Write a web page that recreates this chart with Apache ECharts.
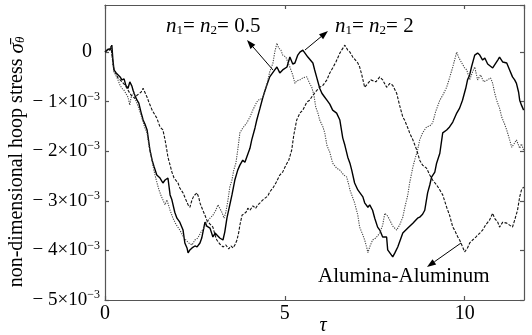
<!DOCTYPE html>
<html>
<head>
<meta charset="utf-8">
<script src="https://cdn.jsdelivr.net/npm/echarts/dist/echarts.min.js"></script>
<style>
html, body { margin: 0; padding: 0; background: #fff; }
#main { width: 532px; height: 335px; }
</style>
</head>
<body>
<div id="main"></div>
<script>
// [tau, stress in units of 1e-3]
var solidData = [[0,0],[0.08,0.06],[0.14,0.04],[0.19,0.14],[0.22,-0.16],[0.25,-0.36],[0.31,-0.42],[0.36,-0.46],[0.42,-0.50],[0.47,-0.56],[0.53,-0.54],[0.58,-0.67],[0.64,-0.73],[0.69,-0.60],[0.75,-0.69],[0.78,-0.77],[0.83,-0.87],[0.89,-0.97],[0.94,-1.03],[1.00,-1.21],[1.06,-1.37],[1.11,-1.45],[1.17,-1.57],[1.19,-1.67],[1.25,-1.98],[1.31,-2.18],[1.36,-2.30],[1.44,-2.48],[1.53,-2.54],[1.61,-2.64],[1.67,-2.58],[1.75,-2.54],[1.81,-2.88],[1.86,-2.98],[1.94,-3.23],[2.00,-3.35],[2.08,-3.43],[2.17,-3.59],[2.22,-3.85],[2.28,-3.95],[2.31,-4.05],[2.36,-3.99],[2.42,-3.95],[2.50,-3.91],[2.56,-3.93],[2.64,-3.85],[2.69,-3.75],[2.78,-3.43],[2.83,-3.51],[2.92,-3.55],[3.00,-3.73],[3.06,-3.65],[3.11,-3.63],[3.19,-3.75],[3.28,-3.79],[3.33,-3.63],[3.39,-3.35],[3.47,-3.08],[3.53,-2.88],[3.61,-2.58],[3.69,-2.38],[3.75,-2.28],[3.83,-2.18],[3.89,-2.22],[3.94,-2.12],[4.03,-1.94],[4.08,-1.77],[4.17,-1.53],[4.22,-1.37],[4.31,-1.13],[4.39,-0.91],[4.47,-0.73],[4.58,-0.50],[4.64,-0.44],[4.72,-0.36],[4.78,-0.30],[4.86,-0.42],[4.94,-0.36],[5.06,-0.30],[5.14,-0.10],[5.22,-0.24],[5.28,-0.22],[5.36,-0.06],[5.42,0],[5.50,0.04],[5.56,-0.02],[5.64,-0.10],[5.69,-0.06],[5.78,-0.22],[5.83,-0.36],[5.89,-0.52],[5.97,-0.73],[6.03,-0.83],[6.11,-0.91],[6.17,-0.97],[6.25,-1.05],[6.33,-1.17],[6.44,-1.23],[6.53,-1.37],[6.61,-1.73],[6.67,-1.88],[6.75,-2.12],[6.81,-2.24],[6.86,-2.38],[6.94,-2.64],[7.03,-2.78],[7.08,-2.74],[7.17,-2.92],[7.22,-3.04],[7.31,-3.13],[7.36,-3.08],[7.44,-3.19],[7.50,-3.35],[7.58,-3.53],[7.64,-3.59],[7.72,-3.73],[7.83,-3.73],[7.86,-3.99],[7.92,-4.05],[8.00,-4.13],[8.06,-4.05],[8.14,-3.93],[8.19,-3.89],[8.28,-3.65],[8.33,-3.69],[8.42,-3.55],[8.47,-3.51],[8.56,-3.45],[8.61,-3.47],[8.69,-3.35],[8.75,-3.33],[8.83,-3.27],[8.89,-3.19],[8.97,-2.84],[9.03,-2.68],[9.08,-2.52],[9.17,-2.42],[9.22,-2.24],[9.31,-2.04],[9.39,-1.63],[9.44,-1.61],[9.50,-1.57],[9.58,-1.51],[9.67,-1.41],[9.78,-1.23],[9.86,-1.13],[9.94,-0.97],[10.03,-0.73],[10.08,-0.56],[10.14,-0.46],[10.19,-0.30],[10.28,-0.06],[10.36,-0.02],[10.42,-0.06],[10.50,-0.16],[10.56,-0.12],[10.64,-0.24],[10.69,-0.22],[10.78,-0.32],[10.83,-0.30],[10.92,-0.16],[10.97,-0.10],[11.06,-0.20],[11.17,-0.22],[11.25,-0.36],[11.33,-0.50],[11.39,-0.56],[11.44,-0.63],[11.50,-0.81],[11.53,-0.97],[11.58,-1.07],[11.64,-1.17]];

var dottedData = [[0,0],[0.08,0.04],[0.17,0.12],[0.22,-0.26],[0.25,-0.40],[0.31,-0.48],[0.36,-0.56],[0.42,-0.67],[0.47,-0.73],[0.53,-0.77],[0.58,-0.81],[0.64,-0.91],[0.69,-1.07],[0.72,-0.93],[0.75,-0.87],[0.81,-0.81],[0.83,-0.93],[0.89,-1.03],[0.94,-1.13],[1.00,-1.27],[1.06,-1.41],[1.11,-1.53],[1.17,-1.63],[1.22,-1.88],[1.28,-2.08],[1.33,-2.28],[1.39,-2.48],[1.44,-2.62],[1.50,-2.78],[1.56,-2.90],[1.61,-2.98],[1.67,-3.08],[1.72,-2.98],[1.81,-3.19],[1.89,-3.35],[1.97,-3.47],[2.08,-3.59],[2.17,-3.71],[2.25,-3.79],[2.33,-3.85],[2.42,-3.89],[2.50,-3.79],[2.58,-3.75],[2.67,-3.63],[2.75,-3.55],[2.83,-3.43],[2.92,-3.35],[3.00,-3.29],[3.08,-3.19],[3.14,-3.08],[3.19,-3.04],[3.25,-3.23],[3.31,-3.35],[3.36,-3.23],[3.42,-2.98],[3.47,-2.72],[3.53,-2.58],[3.58,-2.38],[3.64,-2.24],[3.69,-1.98],[3.75,-1.63],[3.83,-1.53],[3.94,-1.43],[4.03,-1.31],[4.11,-1.17],[4.19,-1.05],[4.25,-0.97],[4.33,-0.95],[4.39,-0.91],[4.47,-0.73],[4.53,-0.56],[4.58,-0.40],[4.67,-0.22],[4.72,0],[4.78,0.18],[4.83,0.08],[4.89,0.04],[4.94,-0.06],[5.03,-0.10],[5.08,-0.20],[5.14,-0.30],[5.22,-0.46],[5.28,-0.63],[5.33,-0.58],[5.42,-0.56],[5.50,-0.52],[5.61,-0.50],[5.69,-0.63],[5.75,-0.71],[5.81,-0.87],[5.86,-1.11],[5.92,-1.23],[5.97,-1.37],[6.06,-1.51],[6.11,-1.63],[6.17,-1.88],[6.25,-2.02],[6.33,-2.24],[6.44,-2.34],[6.53,-2.38],[6.64,-2.48],[6.72,-2.52],[6.78,-2.68],[6.81,-2.78],[6.89,-2.94],[6.94,-3.04],[7.03,-3.29],[7.08,-3.53],[7.17,-3.69],[7.22,-3.79],[7.28,-3.95],[7.31,-4.05],[7.36,-3.93],[7.44,-3.79],[7.53,-3.75],[7.64,-3.65],[7.72,-3.49],[7.78,-3.25],[7.86,-3.31],[7.92,-3.39],[8.00,-3.51],[8.11,-3.59],[8.19,-3.49],[8.28,-3.33],[8.33,-3.15],[8.42,-2.88],[8.47,-2.64],[8.56,-2.32],[8.61,-2.18],[8.69,-1.98],[8.75,-1.77],[8.83,-1.63],[8.94,-1.51],[9.03,-1.49],[9.11,-1.43],[9.19,-1.21],[9.31,-0.97],[9.39,-0.87],[9.50,-0.71],[9.58,-0.52],[9.67,-0.30],[9.72,-0.16],[9.78,0],[9.83,-0.10],[9.92,-0.22],[10.00,-0.32],[10.06,-0.36],[10.14,-0.56],[10.22,-0.40],[10.28,-0.30],[10.36,-0.56],[10.44,-0.46],[10.53,-0.60],[10.64,-0.56],[10.72,-0.52],[10.78,-0.63],[10.83,-0.81],[10.89,-0.97],[10.97,-1.13],[11.03,-1.31],[11.11,-1.45],[11.17,-1.57],[11.25,-1.77],[11.31,-1.92],[11.39,-1.83],[11.44,-1.77],[11.53,-1.94],[11.58,-1.85],[11.64,-1.98]];

var dashedData = [[0,0],[0.08,0.04],[0.17,0.08],[0.22,-0.20],[0.25,-0.36],[0.31,-0.44],[0.36,-0.52],[0.42,-0.56],[0.47,-0.60],[0.56,-0.67],[0.61,-0.73],[0.69,-0.83],[0.75,-0.89],[0.83,-0.93],[0.89,-0.87],[0.94,-0.85],[1.00,-0.81],[1.06,-0.73],[1.11,-0.77],[1.17,-0.91],[1.22,-1.01],[1.25,-0.97],[1.31,-1.17],[1.39,-1.27],[1.44,-1.33],[1.53,-1.51],[1.58,-1.47],[1.61,-1.57],[1.67,-1.77],[1.72,-1.98],[1.75,-2.12],[1.81,-2.28],[1.86,-2.42],[1.92,-2.54],[1.97,-2.58],[2.03,-2.64],[2.08,-2.74],[2.17,-2.84],[2.25,-2.98],[2.31,-3.08],[2.36,-3.13],[2.42,-2.98],[2.47,-2.90],[2.56,-2.84],[2.61,-2.94],[2.64,-3.04],[2.72,-3.19],[2.78,-3.29],[2.83,-3.39],[2.92,-3.47],[3.00,-3.53],[3.06,-3.69],[3.11,-3.79],[3.19,-3.87],[3.28,-3.93],[3.36,-3.89],[3.44,-3.97],[3.50,-3.91],[3.56,-3.95],[3.61,-3.89],[3.67,-3.79],[3.72,-3.63],[3.75,-3.49],[3.81,-3.29],[3.83,-3.25],[3.92,-3.23],[3.97,-3.15],[4.03,-3.19],[4.11,-3.10],[4.19,-3.15],[4.25,-3.08],[4.31,-3.04],[4.39,-2.98],[4.44,-2.94],[4.53,-2.90],[4.58,-2.82],[4.67,-2.74],[4.75,-2.64],[4.86,-2.48],[4.94,-2.42],[5.03,-2.28],[5.11,-2.18],[5.19,-1.98],[5.25,-1.67],[5.33,-1.37],[5.42,-1.23],[5.50,-1.17],[5.61,-1.01],[5.69,-0.97],[5.78,-0.87],[5.89,-0.77],[5.97,-0.71],[6.06,-0.67],[6.17,-0.56],[6.25,-0.42],[6.33,-0.32],[6.42,-0.20],[6.53,-0.02],[6.58,0.04],[6.67,0.14],[6.75,0.04],[6.81,0],[6.89,-0.10],[6.94,-0.12],[7.03,-0.22],[7.08,-0.30],[7.14,-0.46],[7.22,-0.71],[7.31,-0.63],[7.39,-0.56],[7.44,-0.56],[7.53,-0.60],[7.64,-0.50],[7.72,-0.56],[7.83,-0.71],[7.92,-0.63],[8.00,-0.67],[8.11,-0.83],[8.19,-1.07],[8.28,-1.31],[8.33,-1.37],[8.42,-1.53],[8.47,-1.63],[8.56,-1.77],[8.67,-1.98],[8.75,-2.18],[8.83,-2.28],[8.94,-2.34],[9.03,-2.48],[9.11,-2.58],[9.22,-2.68],[9.31,-2.78],[9.39,-2.88],[9.50,-3.13],[9.58,-3.29],[9.67,-3.53],[9.72,-3.59],[9.81,-3.73],[9.86,-3.79],[9.92,-3.89],[10.00,-4.03],[10.08,-3.95],[10.14,-3.85],[10.22,-3.79],[10.31,-3.73],[10.42,-3.65],[10.50,-3.59],[10.58,-3.49],[10.69,-3.39],[10.78,-3.25],[10.83,-3.35],[10.92,-3.43],[10.97,-3.53],[11.06,-3.43],[11.17,-3.45],[11.25,-3.49],[11.33,-3.53],[11.39,-3.39],[11.47,-3.19],[11.53,-2.92],[11.58,-2.78],[11.64,-2.72]];

var xTicks = [0, 5, 10];
var yTicks = [-5, -4, -3, -2, -1, 0];

var serif = '"Liberation Serif", "Times New Roman", serif';
var myChart = echarts.init(document.getElementById('main'));

function arrow(x1, y1, x2, y2) {
    var a = Math.atan2(y2 - y1, x2 - x1), L = 9, W = 3.2;
    var bx = x2 - L * Math.cos(a), by = y2 - L * Math.sin(a);
    var px = -Math.sin(a) * W, py = Math.cos(a) * W;
    return [
        { type: 'line', shape: { x1: x1, y1: y1, x2: bx, y2: by }, style: { stroke: '#000', lineWidth: 1 } },
        { type: 'polygon', shape: { points: [[x2, y2], [bx + px, by + py], [bx - px, by - py]] }, style: { fill: '#000' } }
    ];
}

var annoRich = {
    i: { fontFamily: serif, fontSize: 21, fontStyle: 'italic', fill: '#000' },
    sub: { fontFamily: serif, fontSize: 13, verticalAlign: 'bottom', fill: '#000', padding: [8, 0, 0, 0] },
    r: { fontFamily: serif, fontSize: 21, fill: '#000' }
};

var axisLineStyle = { color: '#555', width: 1.2 };

option = {
    animation: false,
    backgroundColor: '#fff',
    grid: { left: 105, right: 8, top: 5, bottom: 35 },
    xAxis: [{
        type: 'value', min: 0, max: 11.65, interval: 5,
        axisLine: { show: true, onZero: false, lineStyle: axisLineStyle },
        axisTick: { show: true, inside: true, length: 4, lineStyle: axisLineStyle },
        splitLine: { show: false },
        axisLabel: {
            margin: 4, color: '#000', fontFamily: serif, fontSize: 20, showMaxLabel: false,
            formatter: function (v) { return xTicks.indexOf(v) >= 0 ? String(v) : ''; }
        }
    }, {
        type: 'value', position: 'top', min: 0, max: 11.65, interval: 5,
        axisLine: { show: true, onZero: false, lineStyle: axisLineStyle },
        axisTick: { show: true, inside: true, length: 4, lineStyle: axisLineStyle },
        axisLabel: { show: false }, splitLine: { show: false }
    }],
    yAxis: [{
        type: 'value', min: -5, max: 0.95, interval: 1,
        axisLine: { show: true, onZero: false, lineStyle: axisLineStyle },
        axisTick: { show: true, inside: true, length: 4, lineStyle: axisLineStyle },
        splitLine: { show: false },
        axisLabel: {
            margin: 5, showMaxLabel: false,
            formatter: function (v) {
                if (yTicks.indexOf(v) < 0) return '';
                if (v === 0) return '{z|0}';
                return '{b|\u2212 ' + Math.abs(v) + '\u00d710}{s|\u22123}';
            },
            rich: {
                z: { fontFamily: serif, fontSize: 20, color: '#000', padding: [0, 8, 0, 0], lineHeight: 22 },
                b: { fontFamily: serif, fontSize: 19, color: '#000', lineHeight: 22 },
                s: { fontFamily: serif, fontSize: 12, color: '#000', verticalAlign: 'top', lineHeight: 12 }
            }
        }
    }, {
        type: 'value', position: 'right', min: -5, max: 0.95, interval: 1,
        axisLine: { show: true, onZero: false, lineStyle: axisLineStyle },
        axisTick: { show: true, inside: true, length: 4, lineStyle: axisLineStyle },
        axisLabel: { show: false }, splitLine: { show: false }
    }],
    series: [{
        name: 'n1=n2=2', type: 'line', data: solidData, symbol: 'none',
        lineStyle: { color: '#000', width: 1.4 }
    }, {
        name: 'n1=n2=0.5', type: 'line', data: dottedData, symbol: 'none',
        lineStyle: { color: '#444', width: 1.1, type: [1.2, 1.2] }
    }, {
        name: 'Alumina-Aluminum', type: 'line', data: dashedData, symbol: 'none',
        lineStyle: { color: '#111', width: 1.1, type: [3, 1.5] }
    }],
    graphic: [].concat(
        arrow(273, 70, 247, 40),
        arrow(305, 50, 328, 31),
        arrow(461, 243, 427, 267),
        [{
            type: 'text', left: 166, top: 16,
            style: { text: '{i|n}{sub|1}{r|= }{i|n}{sub|2}{r|= 0.5}', rich: annoRich }
        }, {
            type: 'text', left: 335, top: 16,
            style: { text: '{i|n}{sub|1}{r|= }{i|n}{sub|2}{r|= 2}', rich: annoRich }
        }, {
            type: 'text', left: 318, top: 266,
            style: { text: 'Alumina-Aluminum', font: '21px ' + serif, fill: '#000' }
        }, {
            type: 'text', x: 323, y: 326,
            style: { text: '\u03c4', font: 'italic 20px ' + serif, fill: '#000', align: 'center', verticalAlign: 'middle' }
        }, {
            type: 'text', x: 17, y: 162, rotation: Math.PI / 2,
            style: {
                text: '{r|non-dimensional hoop stress }{i|\u03c3\u0304}{sub|\u03b8}',
                align: 'center', verticalAlign: 'middle',
                rich: {
                    r: { fontFamily: serif, fontSize: 20, fill: '#000' },
                    i: { fontFamily: serif, fontSize: 21, fontStyle: 'italic', fill: '#000' },
                    sub: { fontFamily: serif, fontSize: 13, fontStyle: 'italic', verticalAlign: 'bottom', fill: '#000', padding: [8, 0, 0, 0] }
                }
            }
        }]
    )
};
myChart.setOption(option);
</script>
</body>
</html>
